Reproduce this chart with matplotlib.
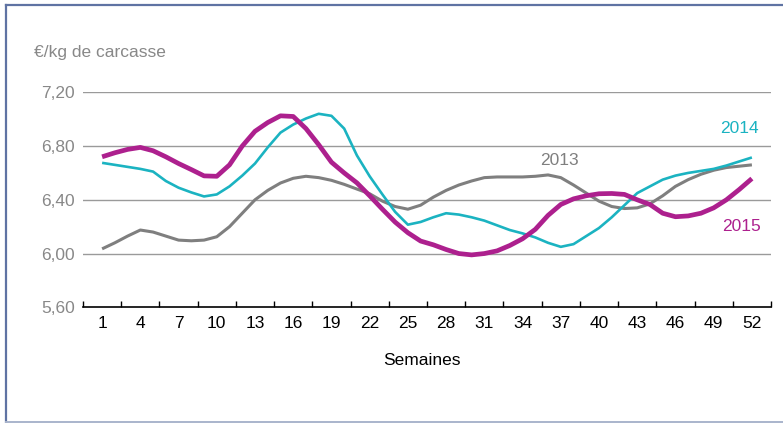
import matplotlib
matplotlib.use("Agg")
import matplotlib.pyplot as plt
from matplotlib.lines import Line2D
import numpy as np

plt.rcParams['font.family'] = ['Liberation Sans', 'DejaVu Sans']

weeks = list(range(1, 53))
tick_labels = [1, 4, 7, 10, 13, 16, 19, 22, 25, 28, 31, 34, 37, 40, 43, 46, 49, 52]
y_ticks = [5.60, 6.00, 6.40, 6.80, 7.20]

prix_2013 = [6.035, 6.08, 6.13, 6.175, 6.16, 6.13, 6.10, 6.095, 6.10, 6.125,
             6.20, 6.30, 6.40, 6.47, 6.525, 6.56, 6.575, 6.565, 6.545, 6.515,
             6.48, 6.445, 6.39, 6.35, 6.33, 6.36, 6.42, 6.47, 6.51, 6.54,
             6.565, 6.57, 6.57, 6.57, 6.575, 6.585, 6.565, 6.51, 6.45, 6.39,
             6.35, 6.335, 6.34, 6.37, 6.43, 6.50, 6.55, 6.59, 6.62, 6.64,
             6.65, 6.66]
prix_2014 = [6.675, 6.66, 6.645, 6.63, 6.61, 6.54, 6.49, 6.455, 6.425, 6.44,
             6.50, 6.58, 6.67, 6.79, 6.90, 6.96, 7.005, 7.04, 7.025, 6.93,
             6.73, 6.575, 6.44, 6.31, 6.215, 6.235, 6.27, 6.30, 6.29, 6.27,
             6.245, 6.21, 6.175, 6.15, 6.12, 6.08, 6.05, 6.07, 6.13, 6.19,
             6.27, 6.36, 6.45, 6.50, 6.55, 6.58, 6.60, 6.615, 6.63, 6.655,
             6.685, 6.715]
prix_2015 = [6.72, 6.75, 6.775, 6.79, 6.765, 6.72, 6.67, 6.625, 6.578, 6.575,
             6.66, 6.80, 6.91, 6.975, 7.025, 7.02, 6.93, 6.81, 6.68, 6.60,
             6.526, 6.43, 6.33, 6.234, 6.155, 6.093, 6.065, 6.03, 6.00, 5.99,
             6.00, 6.02, 6.06, 6.11, 6.18, 6.284, 6.365, 6.407, 6.43, 6.445,
             6.447, 6.44, 6.40, 6.365, 6.30, 6.274, 6.28, 6.30, 6.34, 6.40,
             6.476, 6.558]

C13 = '#7f7f7f'
C14 = '#1bb3c1'
C15 = '#ad208e'

W, H = 783, 423
fig = plt.figure(figsize=(W / 100, H / 100), dpi=100)
ax = fig.add_axes([83 / W, 1 - 307.3 / H, (771 - 83) / W, (307.3 - 92.3) / H])

for yv in y_ticks[1:]:
    ax.axhline(yv, color='#9a9a9a', lw=1.0, zorder=1)

common = dict(clip_on=False, solid_capstyle='butt', solid_joinstyle='round')
ax.plot(weeks, prix_2013, color=C13, lw=2.2, zorder=3, **common)
ax.plot(weeks, prix_2014, color=C14, lw=1.9, zorder=4, **common)
ax.plot(weeks, prix_2015, color=C15, lw=3.4, zorder=5, **common)

ax.set_xlim(-0.5, 53.5)
ax.set_ylim(5.6, 7.2)

for s in ['top', 'right', 'left']:
    ax.spines[s].set_visible(False)
ax.spines['bottom'].set_color('black')
ax.spines['bottom'].set_linewidth(1.2)

ax.set_xticks(tick_labels)
ax.set_xticklabels([str(t) for t in tick_labels])
ax.set_xticks(np.arange(-0.5, 54, 3), minor=True)
ax.tick_params(axis='x', which='major', length=0, pad=6, labelsize=12.5, labelcolor='black')
ax.tick_params(axis='x', which='minor', length=4, width=1.0, direction='in', color='black')

ax.set_yticks(y_ticks)
ax.set_yticklabels([f"{v:.2f}".replace('.', ',') for v in y_ticks])
ax.tick_params(axis='y', length=0, pad=6, labelsize=12.5, labelcolor='#888888')

fig.text(34 / W, 1 - 57.5 / H, "€/kg de carcasse", color='#888888', fontsize=12.5, va='baseline', ha='left')
fig.text(421.5 / W, 1 - 365 / H, "Semaines", color='black', fontsize=12.5, va='baseline', ha='center')

ax.text(51, 6.896, "2014", color=C14, fontsize=12.5, ha='center', va='baseline')
ax.text(36.9, 6.656, "2013", color=C13, fontsize=12.5, ha='center', va='baseline')
ax.text(51.2, 6.167, "2015", color=C15, fontsize=12.5, ha='center', va='baseline')

# frame
fig.add_artist(Line2D([6 / W, 6 / W], [1 - 5 / H, 1 - 421.5 / H], transform=fig.transFigure,
                      color='#5f73a3', lw=1.6))
fig.add_artist(Line2D([6 / W, 1.0], [1 - 5.5 / H, 1 - 5.5 / H], transform=fig.transFigure,
                      color='#5f73a3', lw=1.6))
fig.add_artist(Line2D([6 / W, 1.0], [1 - 421.5 / H, 1 - 421.5 / H], transform=fig.transFigure,
                      color='#a9b4cc', lw=1.4))

fig.savefig("out.png", dpi=100)
